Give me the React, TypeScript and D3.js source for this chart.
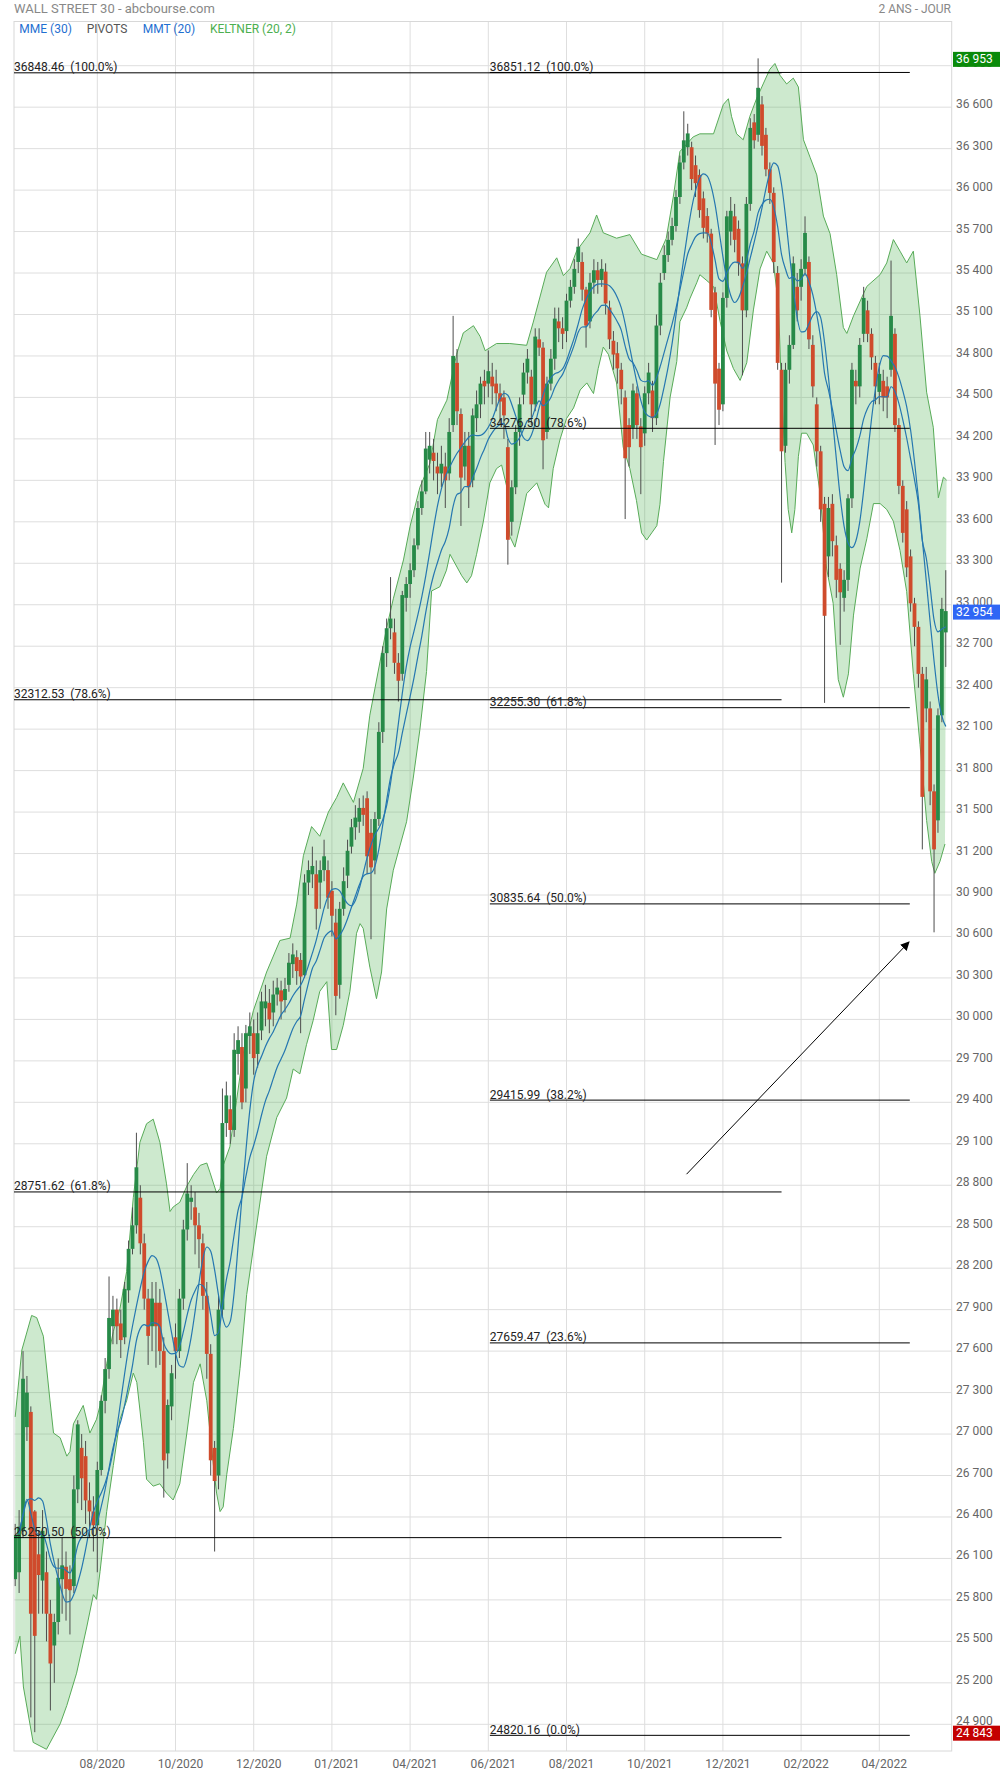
import React from 'react';
import * as d3 from 'd3';

// ---------- DATA ----------
const OPEN = [
  25950, 26000, 26300, 27050, 27160, 26440, 26130, 25940, 26000, 25700,
  25470, 25640, 25950, 26040, 25950, 25900, 26600, 26900, 26840, 26520,
  26440, 26340, 26740, 27240, 27470, 27780, 27900, 27800, 27700, 28040,
  28340, 28510, 28710, 28380, 27980, 27780, 27950, 27950, 27600, 26860,
  27200, 27700, 27600, 27980, 28480, 28680, 28640, 28510, 28380, 28000,
  27580, 26900, 26700, 27900, 29250, 29350, 29200, 29750, 29800, 29500,
  29880, 29900, 29750, 29920, 30080, 30120, 30050, 30180, 30210, 30140,
  30250, 30400, 30450, 30430, 30320, 30990, 31050, 31050, 30990, 31080,
  31080, 30930, 30700, 30250, 30800, 31040, 31250, 31390, 31430, 31530,
  31600, 31350, 31150, 31450, 32080, 32650, 32830, 32800, 32580, 32500,
  33050, 33150, 33250, 33430, 33700, 33820, 34050, 34100, 34000, 33950,
  34000, 33950, 34300, 34750, 34380, 34000, 34150, 33900, 34350, 34450,
  34620, 34600, 34650, 34600, 34530, 34500, 34140, 33600, 33850, 34250,
  34520, 34680, 34650, 34450, 34920, 34860, 34250, 34600, 34780, 35050,
  35000, 34980, 35200, 35300, 35480, 35480, 35280, 35050, 35330, 35420,
  35350, 35410, 35150, 34910, 34820, 34700, 34500, 34300, 34280, 34530,
  34290, 34240, 34530, 34550, 34350, 35020, 35400, 35530, 35640, 35740,
  35950, 36200, 36310, 36310, 36180, 36110, 35940, 35812, 35685, 35260,
  34708, 34450, 35220, 35700, 35810, 35720, 35470, 35130, 35900, 36490,
  36400, 36620, 36400, 36150, 35980, 35400, 34700, 34150, 34700, 34880,
  35300, 35300, 35430, 35480, 34880, 34450, 34110, 33730, 33350, 33730,
  33430, 33260, 33050, 33180, 33770, 34620, 34580, 34960, 35130, 34960,
  34750, 34540, 34620, 34580, 34700, 34960, 34300, 33860, 33690, 33350,
  33010, 32840, 32500, 32250, 32250, 31650, 31440, 32200, 32800,
];
const HIGH = [
  26350, 26450, 27600, 27420, 27200, 26450, 26300, 26450, 26150, 25800,
  25700, 26100, 26250, 26150, 26050, 26700, 27100, 27000, 26950, 26650,
  26550, 26800, 27280, 27550, 28140, 28000, 27980, 27900, 28100, 28400,
  28640, 29180, 28800, 28450, 28050, 28100, 28100, 28050, 27700, 27250,
  27500, 27800, 28050, 28550, 28960, 28800, 28750, 28600, 28450, 28100,
  27650, 26950, 28000, 29500, 29550, 29450, 29900, 29950, 29900, 29960,
  30050, 30000, 30050, 30200, 30250, 30220, 30280, 30300, 30280, 30300,
  30480, 30550, 30500, 30480, 31050, 31150, 31250, 31150, 31150, 31300,
  31150, 31000, 30800, 30850, 31100, 31300, 31450, 31550, 31600, 31620,
  31650, 31450, 31500, 32150, 32700, 32900, 33200, 32900, 32650, 33100,
  33200, 33300, 33480, 33750, 33900, 34250, 34250, 34200, 34100, 34150,
  34100, 34350, 35090, 34850, 34420, 34250, 34250, 34420, 34550, 34650,
  34700, 34840, 34750, 34700, 34600, 34550, 34200, 33900, 34300, 34500,
  34750, 34850, 34700, 35000, 35000, 34900, 34650, 34850, 35150, 35150,
  35080, 35250, 35350, 35500, 35650, 35550, 35300, 35400, 35500, 35480,
  35500, 35470, 35200, 34980, 34900, 34750, 34550, 34350, 34600, 34580,
  34350, 34580, 34750, 34620, 35100, 35400, 35600, 35700, 35800, 36000,
  36250, 36570, 36480, 36350, 36250, 36150, 35990, 35870, 35720, 35300,
  34750, 35260, 35850, 35950, 35900, 35780, 35520, 35950, 36520, 36550,
  36953, 36680, 36450, 36200, 36020, 35450, 34750, 34750, 34950, 35520,
  35400, 35500, 35810, 35520, 34950, 34500, 34150, 33780, 33780, 33800,
  33500, 33300, 33250, 33800, 34750, 34700, 34930, 35300, 35200, 35000,
  34800, 34750, 34700, 34650, 35490, 35000, 34350, 33900, 33750, 33400,
  33050, 32880, 32550, 32550, 32300, 31700, 32250, 33050, 33250,
];
const LOW = [
  25900, 25850, 26250, 26950, 24950, 24843, 25700, 25700, 25500, 25000,
  25200, 25550, 25700, 25650, 25550, 25850, 26500, 26450, 26350, 26250,
  26150, 26000, 26700, 27150, 27400, 27650, 27650, 27550, 27650, 27950,
  28300, 28450, 28300, 27900, 27500, 27600, 27480, 27500, 26540, 26750,
  27100, 27400, 27550, 27900, 28400, 28550, 28300, 28200, 27900, 27400,
  26700, 26150, 26600, 27850, 29150, 29100, 29150, 29600, 29350, 29400,
  29750, 29600, 29650, 29850, 29950, 29900, 29950, 30100, 30000, 30050,
  30200, 30300, 30250, 29900, 30300, 30900, 30950, 30650, 30800, 31000,
  30800, 30600, 30030, 30150, 30750, 30950, 31200, 31300, 31350, 31400,
  31050, 30580, 31050, 31400, 32000, 32550, 32750, 32500, 32300, 32450,
  32950, 33050, 33200, 33400, 33650, 33800, 33950, 33900, 33800, 33850,
  33700, 33900, 34250, 34300, 33570, 33900, 33700, 33850, 34250, 34350,
  34450, 34500, 34450, 34400, 34300, 34200, 33290, 33500, 33800, 34150,
  34450, 34600, 34300, 34400, 34800, 33980, 34200, 34550, 34700, 34900,
  34850, 34900, 35150, 35250, 35400, 35200, 34860, 35000, 35250, 35250,
  35300, 35100, 34850, 34700, 34600, 34450, 33620, 34000, 34200, 34200,
  33800, 34150, 34450, 34250, 34300, 34950, 35350, 35480, 35600, 35700,
  35900, 36150, 36250, 36000, 35950, 35800, 35650, 35620, 35080, 34156,
  34300, 34400, 35150, 35600, 35550, 35380, 34660, 35080, 35850, 36300,
  36350, 36250, 36100, 35900, 35400, 34700, 33160, 34100, 34600, 34850,
  35050, 35200, 35380, 34850, 34500, 34000, 33600, 32290, 33200, 33350,
  33050, 32710, 32950, 33100, 33700, 34450, 34500, 34900, 34900, 34700,
  34450, 34450, 34400, 34350, 34650, 34250, 33800, 33450, 33200, 32950,
  32700, 32400, 31230, 32150, 31550, 30630, 31350, 32150, 32550,
];
const CLOSE = [
  26270, 26330, 27400, 27300, 25700, 25540, 25980, 26300, 25700, 25340,
  25640, 25960, 26050, 25880, 25870, 26600, 27070, 26680, 26520, 26440,
  26340, 26740, 27240, 27470, 27840, 27900, 27780, 27680, 28050, 28340,
  28510, 28930, 28380, 27980, 27710, 27980, 27780, 27600, 26810, 27210,
  27440, 27600, 27980, 28480, 28740, 28710, 28510, 28410, 28000, 27580,
  26810, 26660, 27900, 29250, 29450, 29200, 29780, 29850, 29400, 29900,
  29950, 29720, 29900, 30130, 30130, 30000, 30180, 30230, 30130, 30220,
  30410, 30470, 30350, 30310, 30990, 31080, 31110, 30800, 31080, 31180,
  30880, 30750, 30170, 30800, 31000, 31220, 31390, 31460, 31530, 31480,
  31180, 31100, 31450, 32080, 32650, 32830, 32900, 32580, 32450, 33070,
  33150, 33250, 33430, 33700, 33820, 34130, 34150, 34040, 33950, 34020,
  33900, 34250, 34800, 34400, 33920, 34150, 33850, 34370, 34450, 34600,
  34580, 34690, 34580, 34530, 34470, 34370, 33470, 33850, 34250, 34450,
  34680, 34780, 34450, 34940, 34860, 34190, 34600, 34780, 35070, 35000,
  34960, 35200, 35300, 35430, 35590, 35280, 35020, 35330, 35420, 35350,
  35430, 35180, 34920, 34810, 34710, 34560, 34060, 34140, 34550, 34300,
  34140, 34530, 34680, 34350, 35020, 35330, 35530, 35640, 35740, 35950,
  36200, 36360, 36410, 36080, 36050, 35855, 35727, 35685, 35133, 34600,
  34411, 35220, 35810, 35850, 35640, 35470, 35130, 35900, 36450, 36360,
  36740, 36320, 36150, 35980, 35480, 34750, 34110, 34700, 34880, 35470,
  35130, 35430, 35690, 34920, 34580, 34110, 33690, 32920, 33700, 33460,
  33180, 33090, 33180, 33770, 34700, 34580, 34880, 35220, 34960, 34790,
  34580, 34670, 34500, 34500, 35090, 34300, 33860, 33520, 33270, 33010,
  32840, 32500, 31610, 32460, 31650, 31230, 32200, 32970, 32954,
];

// Keltner band edges: [candle index, price]
const KELTNER_UPPER: [number, number][] = [
  [0, 27124], [1.7, 27608], [4.2, 27858], [5.5, 27842], [7.2, 27708], [8.9, 27241], [9.8, 27007],
  [11.5, 26973], [13.2, 26840], [14, 26873], [14.9, 27074], [17.4, 27207], [19.1, 27007], [20.8, 27107],
  [21.7, 27207], [23.4, 27508], [25.1, 27742], [26.8, 27909], [28.5, 28176], [30.2, 28710], [31.9, 29111],
  [33.6, 29245], [35.3, 29278], [37, 29111], [38.7, 28810], [39.6, 28610], [40.4, 28643], [42.1, 28677],
  [43.9, 28794], [45.6, 28877], [47.3, 28944], [49, 28961], [49.8, 28894], [51.5, 28744], [52.4, 28777],
  [53.2, 28944], [54.9, 29078], [56.6, 29412], [58.3, 29750], [60.9, 30062], [64.3, 30343], [67.7, 30571],
  [70.3, 30588], [72, 30834], [73.7, 31184], [75.8, 31395], [77.9, 31325], [80.1, 31500], [82.2, 31605],
  [83.9, 31711], [86.5, 31570], [89, 31816], [90.7, 32201], [93.3, 32587], [95, 32833], [96.7, 33043],
  [99.3, 33324], [101, 33569], [103.5, 33850], [106.1, 34025], [108, 34340], [110.4, 34480], [112.9, 34812],
  [114.6, 34967], [117.2, 35019], [118.9, 34941], [120.2, 34838], [123.1, 34890], [126.5, 34890],
  [130.8, 34877], [132.5, 35045], [134.2, 35226], [135.9, 35406], [138.5, 35510], [140.2, 35381],
  [141.9, 35432], [143.6, 35561], [147, 35691], [148.7, 35820], [150.4, 35691], [153.8, 35652],
  [157.2, 35678], [160.2, 35536], [164.1, 35497], [166.5, 35650], [168.3, 35950], [170, 36279],
  [173.4, 36385], [175.1, 36407], [178.6, 36407], [181.1, 36619], [182.4, 36661], [183.2, 36534],
  [184.5, 36407], [186.2, 36364], [187.9, 36534], [189.6, 36661], [191.3, 36768], [193, 36874],
  [194.3, 36916], [195.6, 36831], [197.3, 36768], [199, 36810], [200.3, 36746], [201.6, 36364],
  [203.3, 36237], [205, 36110], [206.7, 35812], [208.4, 35685], [210.1, 35388], [211.8, 35006],
  [212.7, 34963], [214.4, 35090], [217.8, 35303], [221.2, 35388], [222.9, 35473], [224.6, 35642],
  [226.3, 35558], [228, 35473], [229.7, 35558], [231.4, 35090], [233.1, 34538], [234.8, 34284],
  [236.1, 33774], [237.4, 33923], [238.2, 33902],
];
const KELTNER_LOWER: [number, number][] = [
  [0, 25410], [1.2, 25537], [2.1, 25170], [4.6, 24769], [8, 24719], [11.5, 24903], [13.2, 25036],
  [15.7, 25270], [18.3, 25604], [20, 25838], [20.8, 25804], [21.7, 26005], [23.4, 26439], [25.1, 26773],
  [26.8, 27107], [28.5, 27241], [30.2, 27441], [31.1, 27374], [31.9, 27174], [32.8, 26940], [33.6, 26673],
  [35.3, 26623], [37, 26640], [38.7, 26573], [40.4, 26523], [42.1, 26640], [43.9, 27007], [45.6, 27374],
  [47.3, 27508], [49, 27241], [50.7, 26773], [51.5, 26573], [52.4, 26439], [53.2, 26473], [54.1, 26706],
  [55.8, 27040], [57.5, 27475], [59.2, 28009], [64.3, 29010], [66.9, 29291], [69.4, 29431], [71.1, 29641],
  [72.8, 29606], [74.5, 29817], [76.2, 29992], [77.9, 30203], [79.7, 30273], [80.9, 29782], [82.2, 29782],
  [83.9, 29957], [85.6, 30203], [87.3, 30623], [88.2, 30693], [89, 30658], [90.7, 30378], [92.4, 30150],
  [93.7, 30343], [95, 30799], [96.7, 31079], [98.4, 31255], [100.1, 31430], [101.8, 31746], [103.5, 32096],
  [105.2, 32517], [106.5, 33100], [108.6, 33130], [110.3, 33250], [111.2, 33365], [114.2, 33210],
  [115.5, 33158], [116.7, 33210], [118, 33365], [119.7, 33598], [121.4, 33882], [123.1, 33985],
  [124.4, 34011], [125.7, 33856], [126.5, 33494], [127.8, 33417], [129.1, 33572], [130.8, 33804],
  [133.4, 33882], [135.5, 33727], [136.4, 33701], [137.6, 33985], [139.3, 34192], [141, 34347],
  [142.8, 34424], [144.5, 34554], [146.2, 34605], [147.9, 34528], [149.1, 34709], [150.4, 34864],
  [151.7, 34812], [153.8, 34605], [155.5, 34140], [157.2, 33985], [158.9, 33753], [160.2, 33520],
  [161.5, 33468], [162.8, 33520], [164.1, 33572], [164.9, 33727], [165.8, 34037], [167.5, 34502],
  [169.2, 34760], [170, 35048], [171.7, 35148], [172.6, 35218], [174.3, 35329], [175.1, 35388],
  [176.9, 35345], [178.6, 35303], [180.3, 35048], [182, 34836], [183.7, 34708], [185.4, 34623],
  [187.1, 34751], [188.8, 35133], [190.5, 35430], [192.2, 35558], [193.9, 35473], [195.2, 35176],
  [196, 34538], [196.9, 34029], [197.7, 33689], [198.6, 33520], [199.4, 33689], [200.3, 34071],
  [201.1, 34241], [202.4, 34241], [204.1, 34156], [205.8, 33817], [207.5, 33265], [209.2, 33010],
  [210.5, 32458], [211.8, 32331], [213.1, 32500], [214.4, 32925], [216.1, 33265], [217.8, 33477],
  [219.5, 33732], [221.2, 33732], [222.9, 33689], [224.6, 33604], [226.3, 33392], [228, 33095],
  [229.7, 32500], [231.4, 31991], [233.1, 31439], [234.4, 31142], [235.2, 31057], [236.5, 31142],
  [237.8, 31269],
];

const X_TICK_INDEX = [21, 41, 61, 81, 101, 121, 141, 161, 181, 201, 221];
const X_TICK_LABELS = ['08/2020', '10/2020', '12/2020', '01/2021', '04/2021', '06/2021', '08/2021', '10/2021', '12/2021', '02/2022', '04/2022'];
const Y_TICKS = [24900, 25200, 25500, 25800, 26100, 26400, 26700, 27000, 27300, 27600, 27900, 28200, 28500, 28800, 29100, 29400, 29700, 30000, 30300, 30600, 30900, 31200, 31500, 31800, 32100, 32400, 32700, 33000, 33300, 33600, 33900, 34200, 34500, 34800, 35100, 35400, 35700, 36000, 36300, 36600, 36900];

const FIB_LEFT_VALUES = [36848.46, 32312.53, 28751.62, 26250.50];
const FIB_LEFT_PCT = ['100.0%', '78.6%', '61.8%', '50.0%'];
const FIB_LEFT_SPAN = [-0.3, 196];
const FIB_RIGHT_VALUES = [36851.12, 34276.50, 32255.30, 30835.64, 29415.99, 27659.47, 24820.16];
const FIB_RIGHT_PCT = ['100.0%', '78.6%', '61.8%', '50.0%', '38.2%', '23.6%', '0.0%'];
const FIB_RIGHT_SPAN = [121.4, 228.8];

const ARROW_FROM = [171.7, 28880];
const ARROW_TO = [228.6, 30560];

const BADGE_HIGH = 36953;
const BADGE_LOW = 24843;
const BADGE_LAST = 32954;

// ---------- LAYOUT ----------
const W = 1000, H = 1774;
const PL = 14, PT = 21.5, PR = 951.7, PB = 1751;
const FONT = "Roboto, 'Noto Sans', Arial, sans-serif";
const GREEN = '#278a48';
const RED = '#cf4b2c';
const WICK = '#4d4d4d';
const MA_COLOR = '#2577b0';

function ema(vals: number[], n: number) {
  const a = 2 / (n + 1);
  const out: number[] = [];
  vals.forEach((v, i) => out.push(i === 0 ? v : a * v + (1 - a) * out[i - 1]));
  return out;
}
function sma(vals: number[], n: number) {
  return vals.map((_, i) => d3.mean(vals.slice(Math.max(0, i - n + 1), i + 1)) as number);
}

const fmt = (v: number) => d3.format(',')(v).replace(/,/g, ' ');

export default function App() {
  const N = CLOSE.length;
  const x = d3.scaleLinear().domain([0, N - 1]).range([15.2, 15.2 + (N - 1) * 3.91]);
  const y = d3.scaleLinear().domain([24900, 36900]).range([1724.3, 65.7]);

  const mme = ema(CLOSE, 15);
  const mmt = sma(sma(CLOSE, 5), 6);

  const line = d3.line<[number, number]>().x(d => x(d[0])).y(d => y(d[1]));
  const bandPoly = KELTNER_UPPER.concat(KELTNER_LOWER.slice().reverse());
  const bandPath = line(bandPoly) + 'Z';
  const maLine = d3.line<number>().x((_, i) => x(i + 1)).y(d => y(d)).curve(d3.curveMonotoneX);

  const bw = 3.8;

  return (
    <svg width={W} height={H} style={{ position: 'absolute', left: 0, top: 0, background: '#fff' }} fontFamily={FONT}>
      <defs>
        <clipPath id="plot"><rect x={PL} y={PT} width={PR - PL} height={PB - PT} /></clipPath>
        <marker id="arrowhead" viewBox="0 0 10 10" refX="9" refY="5" markerWidth="9" markerHeight="9" orient="auto" markerUnits="userSpaceOnUse">
          <path d="M0,0 L10,5 L0,10 Z" fill="#000" />
        </marker>
      </defs>
      <rect x={0} y={0} width={W} height={H} fill="#fff" />

      {/* header */}
      <text x={14} y={12.5} fontSize={13} fill="#888">WALL STREET 30 - abcbourse.com</text>
      <text x={951} y={12.5} fontSize={12} fill="#888" textAnchor="end">2 ANS - JOUR</text>

      {/* grid */}
      <g stroke="#dedede" strokeWidth={1}>
        {Y_TICKS.map(t => <line key={t} x1={PL} x2={PR} y1={y(t)} y2={y(t)} />)}
        {X_TICK_INDEX.map(t => <line key={t} x1={x(t)} x2={x(t)} y1={PT} y2={PB} />)}
      </g>
      <rect x={PL} y={PT} width={PR - PL} height={PB - PT} fill="none" stroke="#d8d8d8" strokeWidth={1} />

      <g clipPath="url(#plot)">
        {/* Keltner band */}
        <path d={bandPath} fill="#4caf50" fillOpacity={0.28} stroke="none" />
        <path d={line(KELTNER_UPPER) || ''} fill="none" stroke="#58ab58" strokeWidth={1} />
        <path d={line(KELTNER_LOWER) || ''} fill="none" stroke="#58ab58" strokeWidth={1} />

        {/* candles */}
        {CLOSE.map((c, i) => {
          const o = OPEN[i];
          const cx = x(i);
          const top = y(Math.max(o, c));
          const bot = y(Math.min(o, c));
          return (
            <g key={i}>
              <line x1={cx} x2={cx} y1={y(HIGH[i])} y2={y(LOW[i])} stroke={WICK} strokeWidth={1} />
              <rect x={cx - bw / 2} y={top} width={bw} height={Math.max(1, bot - top)} fill={c >= o ? GREEN : RED} />
            </g>
          );
        })}

        {/* moving averages: MME (30) and MMT (20) computed from the closes */}
        <path d={maLine(mme.slice(1)) || ''} fill="none" stroke={MA_COLOR} strokeWidth={1.2} />
        <path d={maLine(mmt.slice(1)) || ''} fill="none" stroke={MA_COLOR} strokeWidth={1.2} />
      </g>

      {/* Fibonacci lines */}
      <g>
        {FIB_LEFT_VALUES.map((v, k) => (
          <g key={'l' + k}>
            <line x1={Math.max(PL, x(FIB_LEFT_SPAN[0]))} x2={x(FIB_LEFT_SPAN[1])} y1={y(v)} y2={y(v)} stroke="#000" strokeWidth={1} />
            <text x={PL} y={y(v) - 1.5} fontSize={12} fill="#222" style={{ whiteSpace: 'pre' }}>{`${v.toFixed(2)}  (${FIB_LEFT_PCT[k]})`}</text>
          </g>
        ))}
        {FIB_RIGHT_VALUES.map((v, k) => (
          <g key={'r' + k}>
            <line x1={x(FIB_RIGHT_SPAN[0])} x2={x(FIB_RIGHT_SPAN[1])} y1={y(v)} y2={y(v)} stroke="#000" strokeWidth={1} />
            <text x={x(FIB_RIGHT_SPAN[0])} y={y(v) - 1.5} fontSize={12} fill="#222" style={{ whiteSpace: 'pre' }}>{`${v.toFixed(2)}  (${FIB_RIGHT_PCT[k]})`}</text>
          </g>
        ))}
      </g>

      {/* arrow */}
      <line x1={x(ARROW_FROM[0])} y1={y(ARROW_FROM[1])} x2={x(ARROW_TO[0])} y2={y(ARROW_TO[1])} stroke="#000" strokeWidth={1} markerEnd="url(#arrowhead)" />

      {/* legend */}
      <g fontSize={12}>
        <text x={19.3} y={33.3} fill="#1f6fd1">MME (30)</text>
        <text x={86.7} y={33.3} fill="#555">PIVOTS</text>
        <text x={142.7} y={33.3} fill="#1f6fd1">MMT (20)</text>
        <text x={210} y={33.3} fill="#4caf50">KELTNER (20, 2)</text>
      </g>

      {/* y axis labels */}
      <g fontSize={12} fill="#666">
        {Y_TICKS.map(t => <text key={t} x={956} y={y(t) + 1}>{fmt(t)}</text>)}
      </g>

      {/* x axis labels */}
      <g fontSize={12} fill="#666" textAnchor="middle">
        {X_TICK_INDEX.map((t, k) => <text key={t} x={x(t) + 5} y={1768}>{X_TICK_LABELS[k]}</text>)}
      </g>

      {/* badges */}
      {[
        { v: BADGE_HIGH, c: '#0a8a0a' },
        { v: BADGE_LOW, c: '#c40000' },
        { v: BADGE_LAST, c: '#2f66f5' },
      ].map(b => (
        <g key={b.v}>
          <rect x={953} y={y(b.v) - 7.5 + 1} width={47} height={15} fill={b.c} />
          <text x={956} y={y(b.v) + 5} fontSize={12} fill="#fff">{fmt(b.v)}</text>
        </g>
      ))}
    </svg>
  );
}
